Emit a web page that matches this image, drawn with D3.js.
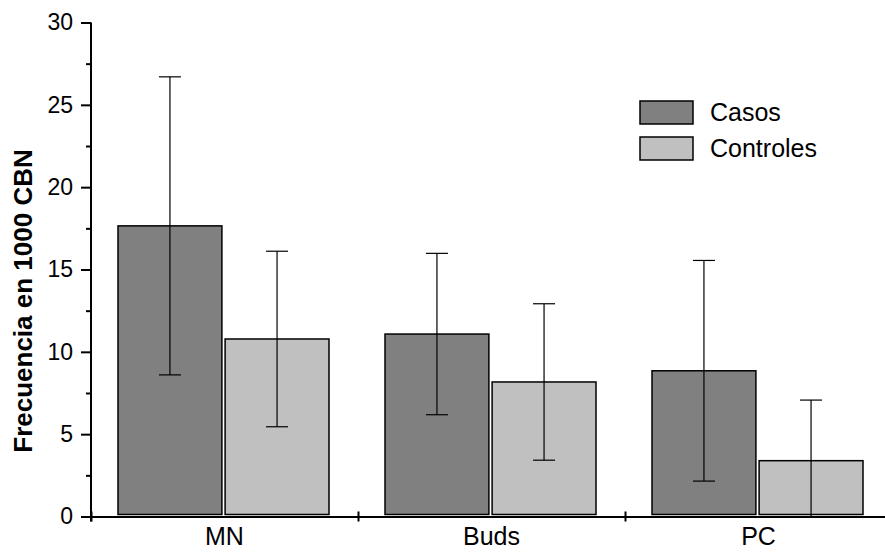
<!DOCTYPE html>
<html>
<head>
<meta charset="utf-8">
<script src="https://cdn.jsdelivr.net/npm/d3@7"></script>
<style>
body { margin: 0; background: #fff; }
text { font-family: Arial, "Liberation Sans", sans-serif; }
</style>
</head>
<body>
<div id="chart"></div>
<script>
// chart data
var categories = ["MN", "Buds", "PC"];
var series = ["Casos", "Controles"];
var casos = [17.65, 11.08, 8.85];
var controles = [10.78, 8.17, 3.39];
var casosErr = [9.05, 4.9, 6.7];
var controlesErr = [5.33, 4.75, 3.68];
var yTicks = [0, 5, 10, 15, 20, 25, 30];
var yMinor = [2.5, 7.5, 12.5, 17.5, 22.5, 27.5];

var svgWidth = 885;
var svgHeight = 552;
var colors = { Casos: "#808080", Controles: "#c0c0c0" };

var svg = d3.select("#chart")
  .append("svg")
  .attr("width", svgWidth)
  .attr("height", svgHeight);

// scales
var y = d3.scaleLinear().domain([0, 30]).range([516.5, 22.5]);
var x = d3.scaleBand().domain(categories).range([91, 892]);
var x1 = d3.scaleBand().domain(series).range([27, 238]).paddingInner(0.03);
var xEdge = d3.scaleLinear().domain([0, 3]).range([91, 892]);

// rows built from the arrays
var rows = [];
categories.forEach(function(c, i) {
  rows.push({ cat: c, s: "Casos", v: casos[i], e: casosErr[i] });
  rows.push({ cat: c, s: "Controles", v: controles[i], e: controlesErr[i] });
});

// bars
svg.append("g")
  .selectAll("rect")
  .data(rows)
  .enter()
  .append("rect")
    .attr("x", d => x(d.cat) + x1(d.s))
    .attr("y", d => y(d.v))
    .attr("width", x1.bandwidth())
    .attr("height", d => y(0) - y(d.v) - 2)
    .style("fill", d => colors[d.s])
    .style("stroke", "#000")
    .style("stroke-width", 1.5);

// error bars
var eb = svg.append("g")
  .selectAll("g")
  .data(rows)
  .enter()
  .append("g")
  .attr("transform", d => `translate(${x(d.cat) + x1(d.s) + x1.bandwidth() / 2},0)`)
  .style("stroke", "#000")
  .style("stroke-width", 1.2);

eb.append("line")
  .attr("y1", d => y(d.v + d.e))
  .attr("y2", d => y(Math.max(0, d.v - d.e)));

eb.append("line")
  .attr("x1", -11).attr("x2", 11)
  .attr("y1", d => y(d.v + d.e))
  .attr("y2", d => y(d.v + d.e));

eb.filter(d => d.v - d.e > 0)
  .append("line")
  .attr("x1", -11).attr("x2", 11)
  .attr("y1", d => y(d.v - d.e))
  .attr("y2", d => y(d.v - d.e));

// y axis
var leftAxis = d3.axisLeft(y).tickValues(yTicks).tickSizeInner(10).tickSizeOuter(0).tickPadding(8);
var gy = svg.append("g")
  .attr("transform", "translate(91,0)")
  .call(leftAxis);
gy.select(".domain").attr("stroke-width", 2).attr("d", `M0,${y(30)}V${y(0) + 5}`);
gy.selectAll(".tick line").attr("stroke-width", 2);
gy.selectAll(".tick text").style("font-size", "23px").attr("fill", "#000");

var minorAxis = d3.axisLeft(y).tickValues(yMinor).tickSizeInner(5).tickSizeOuter(0).tickFormat("");
var gm = svg.append("g")
  .attr("transform", "translate(91,0)")
  .call(minorAxis);
gm.select(".domain").remove();
gm.selectAll(".tick line").attr("stroke-width", 2);

// x axis (ticks at category edges)
var bottomAxis = d3.axisBottom(xEdge).tickValues([0, 1, 2]).tickSizeInner(5).tickSizeOuter(0).tickFormat("");
var gx = svg.append("g")
  .attr("transform", `translate(0,${y(0)})`)
  .call(bottomAxis);
gx.select(".domain").attr("stroke-width", 2);
gx.selectAll(".tick line").attr("y1", -5).attr("stroke-width", 2);

// category labels
svg.append("g")
  .selectAll("text")
  .data(categories)
  .enter()
  .append("text")
    .attr("x", d => x(d) + x.bandwidth() / 2)
    .attr("y", 545)
    .attr("text-anchor", "middle")
    .style("font-size", "25px")
    .text(d => d);

// y title
svg.append("text")
  .attr("transform", "translate(32,301) rotate(-90)")
  .attr("text-anchor", "middle")
  .style("font-size", "26px")
  .style("font-weight", "bold")
  .text("Frecuencia en 1000 CBN");

// legend
var legend = svg.append("g")
  .selectAll("g")
  .data(series)
  .enter()
  .append("g")
  .attr("transform", (d, i) => `translate(640,${101 + i * 36})`);

legend.append("rect")
  .attr("width", 53)
  .attr("height", 23)
  .style("fill", d => colors[d])
  .style("stroke", "#000")
  .style("stroke-width", 1.5);

legend.append("text")
  .attr("x", 70)
  .attr("y", 20)
  .style("font-size", "25px")
  .text(d => d);
</script>
</body>
</html>
